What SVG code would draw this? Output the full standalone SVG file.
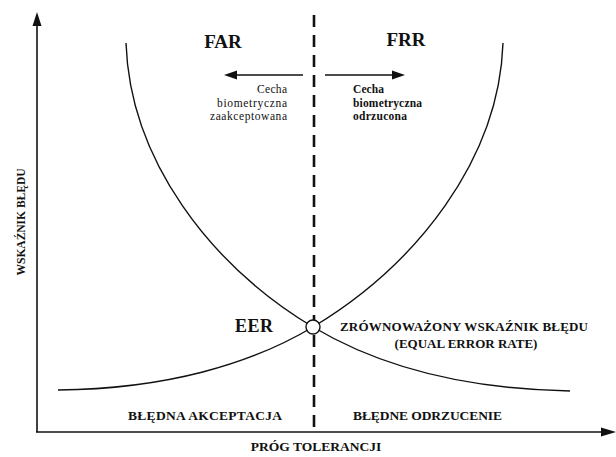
<svg xmlns="http://www.w3.org/2000/svg" width="616" height="457" viewBox="0 0 616 457">
<style>
text{font-family:"Liberation Serif","Times New Roman",serif;fill:#111}
.b{font-weight:bold}
.ln{stroke:#111;fill:none}
.ah{fill:#111;stroke:none}
.s{font-size:11.5px}
</style>
<rect width="616" height="457" fill="#fff"/>
<g id="axes">
<line class="ln" x1="37" y1="22" x2="37" y2="432.5" stroke-width="1.6"/>
<polygon class="ah" points="37,12 32.5,26 41.5,26"/>
<line class="ln" x1="36.2" y1="432" x2="604" y2="432" stroke-width="1.6"/>
<polygon class="ah" points="616,432 601,427.5 601,436.5"/>
</g>
<g id="threshold">
<line class="ln" x1="314" y1="15" x2="314" y2="432" stroke-width="2.6" stroke-dasharray="12,8"/>
</g>
<g id="curves">
<path class="ln" stroke-width="1.4" d="M126,43 C130,160 210,265 313,327 C375,364 460,389 570,391"/>
<path class="ln" stroke-width="1.4" d="M503,43 C499,160 416,265 313,327 C251,364 166,389 58,390"/>
<circle cx="313" cy="327" r="7" fill="#fff" stroke="#111" stroke-width="1.4"/>
</g>
<g id="arrows">
<line class="ln" x1="303" y1="75" x2="234" y2="75" stroke-width="1.6"/>
<polygon class="ah" points="224,75 237,70.5 237,79.5"/>
<line class="ln" x1="325" y1="75" x2="394" y2="75" stroke-width="1.6"/>
<polygon class="ah" points="405,75 392,70.5 392,79.5"/>
</g>
<g id="labels">
<text class="b" x="223" y="48" font-size="19" text-anchor="middle">FAR</text>
<text class="b" x="406" y="46" font-size="19" text-anchor="middle">FRR</text>
<text class="s" x="287" y="93" text-anchor="end" textLength="30">Cecha</text>
<text class="s" x="287" y="106.5" text-anchor="end" textLength="70">biometryczna</text>
<text class="s" x="287" y="120" text-anchor="end" textLength="77">zaakceptowana</text>
<text class="s b" x="353" y="93" textLength="31">Cecha</text>
<text class="s b" x="353" y="106.5" textLength="69">biometryczna</text>
<text class="s b" x="353" y="120" textLength="54">odrzucona</text>
<text class="b" x="235" y="332" font-size="18" textLength="38">EER</text>
<text class="b" x="340" y="331" font-size="13" textLength="248">ZRÓWNOWAŻONY WSKAŹNIK BŁĘDU</text>
<text class="b" x="466" y="348" font-size="13" text-anchor="middle">(EQUAL ERROR RATE)</text>
<text class="b" x="128" y="420" font-size="13.5" textLength="154">BŁĘDNA AKCEPTACJA</text>
<text class="b" x="353" y="420" font-size="13.5" textLength="149">BŁĘDNE ODRZUCENIE</text>
<text class="b" x="316" y="451" font-size="13.5" text-anchor="middle">PRÓG TOLERANCJI</text>
<text class="b" transform="translate(25,222) rotate(-90)" font-size="11.5" text-anchor="middle">WSKAŹNIK BŁĘDU</text>
</g>
</svg>
